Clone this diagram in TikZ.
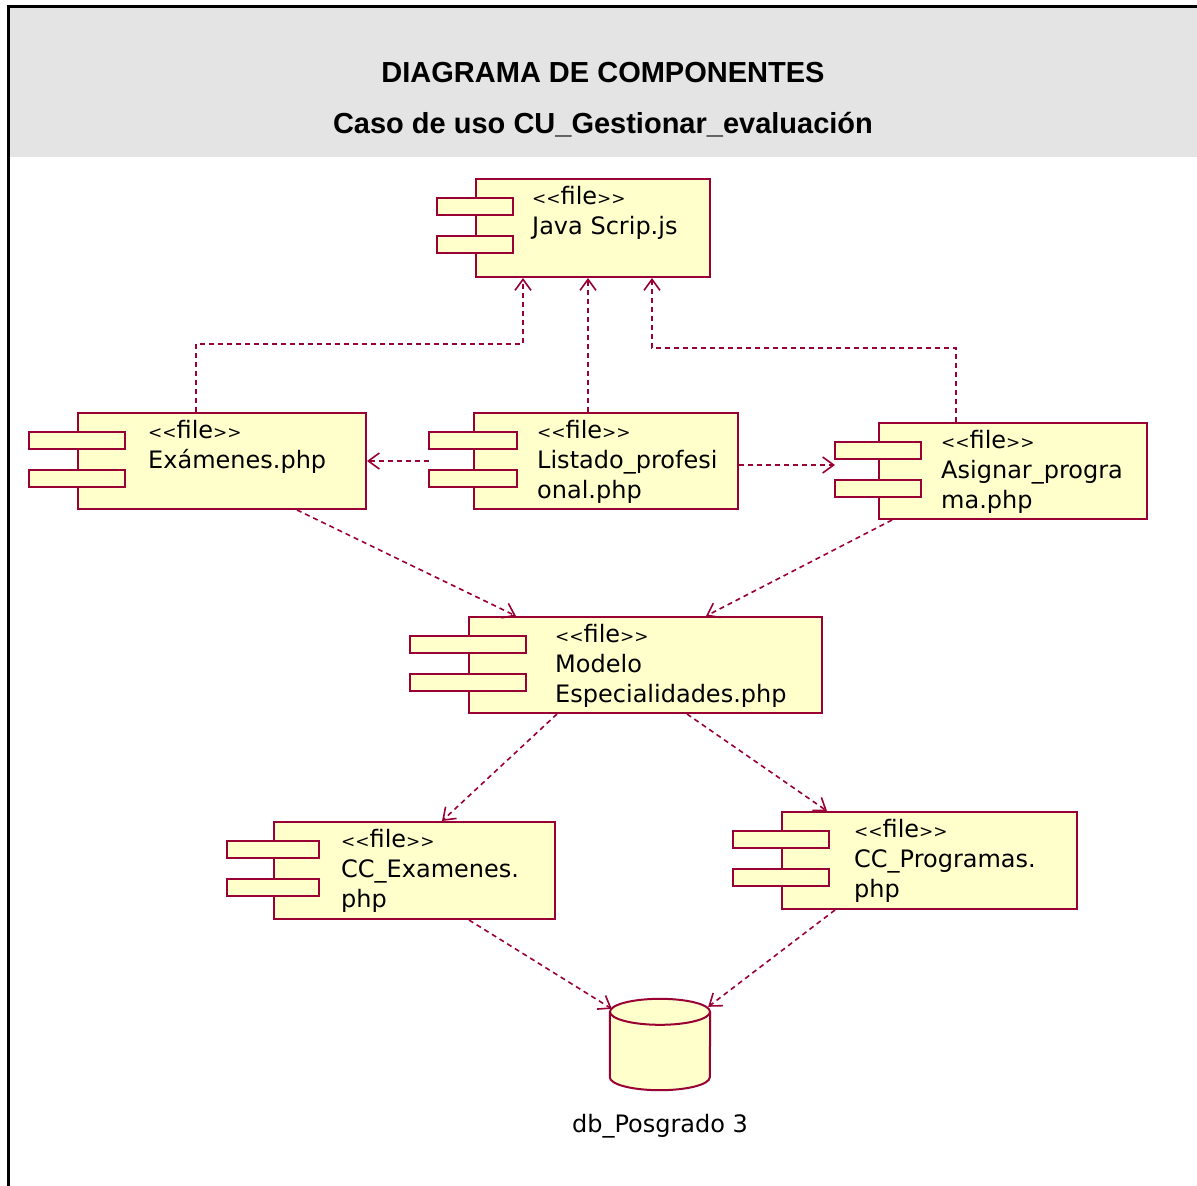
\documentclass[tikz,border=0pt]{standalone}
\usepackage{fontspec}
\setmainfont{DejaVu Sans}
\newfontfamily\headfont{Liberation Sans}
\usepackage{tikz}
\usetikzlibrary{arrows.meta}
\usetikzlibrary{positioning}
\usetikzlibrary{calc}

\definecolor{compred}{HTML}{990033}
\definecolor{compfill}{HTML}{FFFFCC}
\definecolor{headgray}{HTML}{E4E4E4}

\newcommand{\comptabs}[2]{%
  \draw[tabbox] ($(#1.north west)+(-#2,20)$) rectangle ($(#1.north west)+(#2,37)$);
  \draw[tabbox] ($(#1.north west)+(-#2,58)$) rectangle ($(#1.north west)+(#2,75)$);
}
\newcommand{\filest}{{\fontsize{17}{17}\selectfont<{}<}file{\fontsize{17}{17}\selectfont>{}>}}

\begin{document}
\begin{tikzpicture}[x=1pt, y=-1pt,
    comp/.style={rectangle, draw=compred, fill=compfill, line width=2pt, inner sep=0pt},
    tabbox/.style={draw=compred, fill=compfill, line width=2pt},
    ftext/.style={anchor=north west, inner sep=0pt, align=left, font=\fontsize{24}{30}\selectfont},
    dep/.style={draw=compred, line width=1.6pt, dash pattern=on 5pt off 4pt, -{Straight Barb[length=11pt,width=16pt]}},
    title/.style={font=\headfont\bfseries\fontsize{29}{35}\selectfont}]
    \useasboundingbox (0,0) rectangle (1197,1186);

    \fill[headgray] (9,7) rectangle (1197,157);
    \draw[line width=3pt] (7,6) -- (1197,6);
    \draw[line width=3pt] (8,5) -- (8,1186);
    \node[title] (head1) at (603,73) {DIAGRAMA DE COMPONENTES};
    \node[title] (head2) at (603,125) {Caso de uso CU\_Gestionar\_evaluación};

    \node[comp, minimum width=234pt, minimum height=98pt] (js) at (593,228) {};
    \comptabs{js}{38}
    \node[ftext] (js-t) at ($(js.north west)+(57,8)$) {\filest\\Java Scrip.js};

    \node[comp, minimum width=288pt, minimum height=96pt] (exa) at (222,461) {};
    \comptabs{exa}{48}
    \node[ftext] (exa-t) at ($(exa.north west)+(71,8)$) {\filest\\Exámenes.php};

    \node[comp, minimum width=264pt, minimum height=96pt] (lis) at (606,461) {};
    \comptabs{lis}{44}
    \node[ftext] (lis-t) at ($(lis.north west)+(64,8)$) {\filest\\Listado\_profesi\\onal.php};

    \node[comp, minimum width=268pt, minimum height=96pt] (asg) at (1013,471) {};
    \comptabs{asg}{43}
    \node[ftext] (asg-t) at ($(asg.north west)+(63,8)$) {\filest\\Asignar\_progra\\ma.php};

    \node[comp, minimum width=353pt, minimum height=96pt] (mod) at (645.5,665) {};
    \comptabs{mod}{58}
    \node[ftext] (mod-t) at ($(mod.north west)+(87,8)$) {\filest\\Modelo\\Especialidades.php};

    \node[comp, minimum width=281pt, minimum height=97pt] (cce) at (414.5,870.5) {};
    \comptabs{cce}{46}
    \node[ftext] (cce-t) at ($(cce.north west)+(68,8)$) {\filest\\CC\_Examenes.\\php};

    \node[comp, minimum width=295pt, minimum height=97pt] (ccp) at (929.5,860.5) {};
    \comptabs{ccp}{48}
    \node[ftext] (ccp-t) at ($(ccp.north west)+(73,8)$) {\filest\\CC\_Programas.\\php};

    \node[minimum width=100pt, minimum height=91pt, inner sep=0pt] (db) at (660,1044.5) {};
    \fill[compfill] ($(db.north west)+(0,13)$) -- ($(db.south west)+(0,-13)$)
        arc[start angle=180, end angle=360, x radius=50pt, y radius=13pt]
        -- ($(db.north east)+(0,13)$)
        arc[start angle=0, end angle=180, x radius=50pt, y radius=13pt] -- cycle;
    \draw[compred, line width=2pt] ($(db.north)+(0,13)$) ellipse [x radius=50pt, y radius=13pt];
    \draw[compred, line width=2pt] ($(db.north west)+(0,13)$) -- ($(db.south west)+(0,-13)$)
        arc[start angle=180, end angle=360, x radius=50pt, y radius=13pt]
        -- ($(db.north east)+(0,13)$);
    \node[ftext, anchor=center] (db-t) at (660,1126) {db\_Posgrado 3};

    \draw[dep] ($(exa.north west)+(119,0)$) -- ++(0,-68) -| ($(js.south west)+(48,0)$);
    \draw[dep] ($(lis.north west)+(115,0)$) -- ($(js.south west)+(113,0)$);
    \draw[dep] ($(asg.north west)+(78,0)$) -- ++(0,-74) -| ($(js.south west)+(177,0)$);
    \draw[dep] ($(lis.west)+(-44,0)$) -- (exa.east);
    \draw[dep] ($(lis.east)+(0,4)$) -- ($(asg.west)+(-43,-6)$);
    \draw[dep] ($(exa.south west)+(220,0)$) -- ($(mod.north west)+(48,0)$);
    \draw[dep] ($(asg.south west)+(14,0)$) -- ($(mod.north west)+(238,0)$);
    \draw[dep] ($(mod.south west)+(89,0)$) -- ($(cce.north west)+(169,0)$);
    \draw[dep] ($(mod.south west)+(219,0)$) -- ($(ccp.north west)+(46,0)$);
    \draw[dep] ($(cce.south west)+(196,0)$) -- ($(db.north west)+(2,10)$);
    \draw[dep] ($(ccp.south west)+(54,0)$) -- ($(db.north east)+(-2,8)$);
\end{tikzpicture}
\end{document}
